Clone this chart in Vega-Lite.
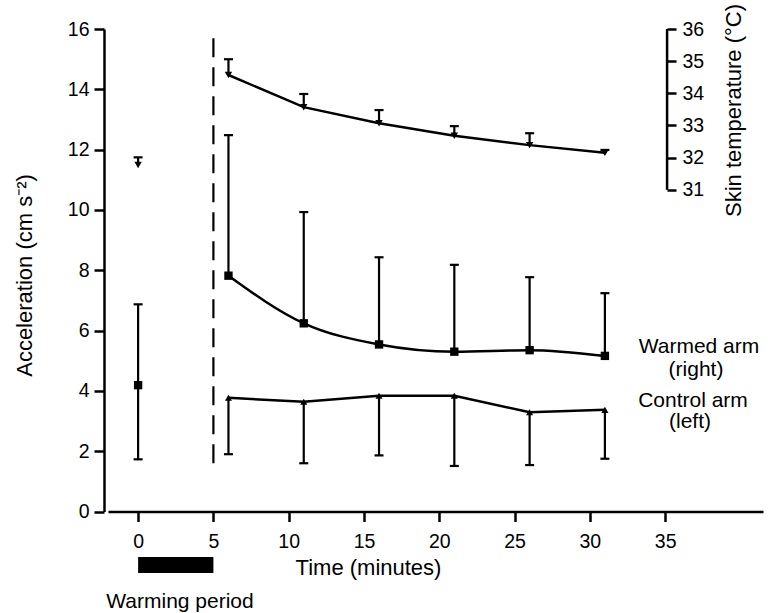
{
  "$schema": "https://vega.github.io/schema/vega-lite/v6.json",
  "width": 655,
  "height": 482.5,
  "autosize": {"type": "none"},
  "padding": {"left": 108, "top": 29, "right": 9, "bottom": 101.5},
  "background": "white",
  "config": {
    "view": {"stroke": null},
    "font": "Liberation Sans",
    "axis": {
      "grid": false,
      "domainColor": "black",
      "domainWidth": 2.5,
      "tickColor": "black",
      "tickWidth": 2.5,
      "labelColor": "black",
      "titleColor": "black",
      "labelFont": "Liberation Sans",
      "titleFont": "Liberation Sans",
      "labelFontSize": 19.5,
      "titleFontSize": 22,
      "titleFontWeight": "normal"
    }
  },
  "datasets": {
    "acc": [
      {"series": "baseline", "time": 0, "value": 4.19, "lo": 1.73, "hi": 6.87},
      {"series": "warmed", "time": 6, "value": 7.82, "lo": 7.82, "hi": 12.48},
      {"series": "warmed", "time": 11, "value": 6.24, "lo": 6.24, "hi": 9.93},
      {"series": "warmed", "time": 16, "value": 5.54, "lo": 5.54, "hi": 8.43},
      {"series": "warmed", "time": 21, "value": 5.30, "lo": 5.30, "hi": 8.18},
      {"series": "warmed", "time": 26, "value": 5.35, "lo": 5.35, "hi": 7.77},
      {"series": "warmed", "time": 31, "value": 5.16, "lo": 5.16, "hi": 7.24},
      {"series": "control", "time": 6, "value": 3.77, "lo": 1.90, "hi": 3.77},
      {"series": "control", "time": 11, "value": 3.64, "lo": 1.60, "hi": 3.64},
      {"series": "control", "time": 16, "value": 3.84, "lo": 1.86, "hi": 3.84},
      {"series": "control", "time": 21, "value": 3.84, "lo": 1.51, "hi": 3.84},
      {"series": "control", "time": 26, "value": 3.29, "lo": 1.54, "hi": 3.29},
      {"series": "control", "time": 31, "value": 3.37, "lo": 1.75, "hi": 3.37}
    ],
    "temp": [
      {"time": 0, "value": 31.77, "hi": 32.01},
      {"time": 6, "value": 34.57, "hi": 35.06},
      {"time": 11, "value": 33.57, "hi": 33.98},
      {"time": 16, "value": 33.07, "hi": 33.48},
      {"time": 21, "value": 32.68, "hi": 32.98},
      {"time": 26, "value": 32.39, "hi": 32.76},
      {"time": 31, "value": 32.15, "hi": 32.24}
    ],
    "notes": [
      {"label": "Warmed arm", "time": 37.25, "acc": 5.45},
      {"label": "(right)", "time": 37.05, "acc": 4.68},
      {"label": "Control arm", "time": 36.85, "acc": 3.68},
      {"label": "(left)", "time": 36.65, "acc": 2.96},
      {"label": "Warming period", "time": 2.78, "acc": -3.0}
    ],
    "periods": [
      {"name": "warming", "start": 0, "end": 5, "top": -1.51, "bottom": -2.04}
    ],
    "markers": [
      {"name": "end of warming", "time": 5, "lo": 1.6, "hi": 15.7}
    ],
    "spine": [
      {"time": 35.13, "lo": 31, "hi": 36}
    ]
  },
  "layer": [
    {
      "layer": [
        {
          "data": {"name": "acc"},
          "mark": {"type": "rule", "strokeWidth": 2.2, "color": "black"},
          "encoding": {
            "x": {"field": "time", "type": "quantitative", "scale": {"domain": [-2, 41.5], "nice": false, "zero": false},
              "axis": {"values": [0, 5, 10, 15, 20, 25, 30, 35], "tickSize": 10, "labelPadding": 11, "title": "Time (minutes)", "titleX": 260, "titleY": 56, "titleBaseline": "middle"}},
            "y": {"field": "lo", "type": "quantitative", "scale": {"domain": [0, 16], "nice": false, "zero": false},
              "axis": {"orient": "left", "offset": 4, "values": [0, 2, 4, 6, 8, 10, 12, 14, 16], "tickSize": 10, "labelPadding": 5, "title": "Acceleration (cm s⁻²)", "titleX": -80, "titleY": 246, "titleBaseline": "middle", "titleAngle": 270}},
            "y2": {"field": "hi"}
          }
        },
        {
          "data": {"name": "acc"},
          "transform": [{"filter": "datum.series != 'control'"}],
          "mark": {"type": "tick", "orient": "horizontal", "size": 9, "thickness": 2.2, "color": "black", "opacity": 1},
          "encoding": {
            "x": {"field": "time", "type": "quantitative", "scale": {"domain": [-2, 41.5], "nice": false, "zero": false}},
            "y": {"field": "hi", "type": "quantitative", "scale": {"domain": [0, 16], "nice": false, "zero": false}}
          }
        },
        {
          "data": {"name": "acc"},
          "transform": [{"filter": "datum.series != 'warmed'"}],
          "mark": {"type": "tick", "orient": "horizontal", "size": 9, "thickness": 2.2, "color": "black", "opacity": 1},
          "encoding": {
            "x": {"field": "time", "type": "quantitative", "scale": {"domain": [-2, 41.5], "nice": false, "zero": false}},
            "y": {"field": "lo", "type": "quantitative", "scale": {"domain": [0, 16], "nice": false, "zero": false}}
          }
        },
        {
          "data": {"name": "acc"},
          "transform": [{"filter": "datum.series == 'warmed'"}],
          "mark": {"type": "line", "interpolate": "monotone", "strokeWidth": 2.5, "color": "black"},
          "encoding": {
            "x": {"field": "time", "type": "quantitative", "scale": {"domain": [-2, 41.5], "nice": false, "zero": false}},
            "y": {"field": "value", "type": "quantitative", "scale": {"domain": [0, 16], "nice": false, "zero": false}}
          }
        },
        {
          "data": {"name": "acc"},
          "transform": [{"filter": "datum.series == 'control'"}],
          "mark": {"type": "line", "strokeWidth": 2.5, "color": "black"},
          "encoding": {
            "x": {"field": "time", "type": "quantitative", "scale": {"domain": [-2, 41.5], "nice": false, "zero": false}},
            "y": {"field": "value", "type": "quantitative", "scale": {"domain": [0, 16], "nice": false, "zero": false}}
          }
        },
        {
          "data": {"name": "acc"},
          "transform": [{"filter": "datum.series != 'control'"}],
          "mark": {"type": "point", "shape": "square", "filled": true, "size": 70, "color": "black", "opacity": 1},
          "encoding": {
            "x": {"field": "time", "type": "quantitative", "scale": {"domain": [-2, 41.5], "nice": false, "zero": false}},
            "y": {"field": "value", "type": "quantitative", "scale": {"domain": [0, 16], "nice": false, "zero": false}}
          }
        },
        {
          "data": {"name": "acc"},
          "transform": [{"filter": "datum.series == 'control'"}],
          "mark": {"type": "point", "shape": "triangle-up", "filled": true, "size": 50, "color": "black", "opacity": 1},
          "encoding": {
            "x": {"field": "time", "type": "quantitative", "scale": {"domain": [-2, 41.5], "nice": false, "zero": false}},
            "y": {"field": "value", "type": "quantitative", "scale": {"domain": [0, 16], "nice": false, "zero": false}}
          }
        },
        {
          "data": {"name": "markers"},
          "mark": {"type": "rule", "strokeWidth": 2.2, "strokeDash": [19, 10], "color": "black"},
          "encoding": {
            "x": {"field": "time", "type": "quantitative", "scale": {"domain": [-2, 41.5], "nice": false, "zero": false}},
            "y": {"field": "lo", "type": "quantitative", "scale": {"domain": [0, 16], "nice": false, "zero": false}},
            "y2": {"field": "hi"}
          }
        },
        {
          "data": {"name": "periods"},
          "mark": {"type": "rect", "color": "black", "opacity": 1},
          "encoding": {
            "x": {"field": "start", "type": "quantitative", "scale": {"domain": [-2, 41.5], "nice": false, "zero": false}},
            "x2": {"field": "end"},
            "y": {"field": "top", "type": "quantitative", "scale": {"domain": [0, 16], "nice": false, "zero": false}},
            "y2": {"field": "bottom"}
          }
        },
        {
          "data": {"name": "notes"},
          "mark": {"type": "text", "font": "Liberation Sans", "fontSize": 21, "align": "center", "baseline": "middle", "color": "black"},
          "encoding": {
            "x": {"field": "time", "type": "quantitative", "scale": {"domain": [-2, 41.5], "nice": false, "zero": false}},
            "y": {"field": "acc", "type": "quantitative", "scale": {"domain": [0, 16], "nice": false, "zero": false}},
            "text": {"field": "label"}
          }
        }
      ]
    },
    {
      "layer": [
        {
          "data": {"name": "temp"},
          "mark": {"type": "rule", "strokeWidth": 2.2, "color": "black"},
          "encoding": {
            "x": {"field": "time", "type": "quantitative", "scale": {"domain": [-2, 41.5], "nice": false, "zero": false}},
            "y": {"field": "value", "type": "quantitative", "scale": {"domain": [21, 36], "nice": false, "zero": false},
              "axis": {"orient": "right", "offset": -96, "domain": false, "values": [31, 32, 33, 34, 35, 36], "tickSize": 9, "labelPadding": 6, "title": "Skin temperature (°C)", "titleX": 66, "titleY": 81, "titleAngle": 270, "titleBaseline": "middle"}},
            "y2": {"field": "hi"}
          }
        },
        {
          "data": {"name": "temp"},
          "mark": {"type": "tick", "orient": "horizontal", "size": 9, "thickness": 2.2, "color": "black", "opacity": 1},
          "encoding": {
            "x": {"field": "time", "type": "quantitative", "scale": {"domain": [-2, 41.5], "nice": false, "zero": false}},
            "y": {"field": "hi", "type": "quantitative", "scale": {"domain": [21, 36], "nice": false, "zero": false}}
          }
        },
        {
          "data": {"name": "temp"},
          "transform": [{"filter": "datum.time > 0"}],
          "mark": {"type": "line", "strokeWidth": 2.5, "color": "black"},
          "encoding": {
            "x": {"field": "time", "type": "quantitative", "scale": {"domain": [-2, 41.5], "nice": false, "zero": false}},
            "y": {"field": "value", "type": "quantitative", "scale": {"domain": [21, 36], "nice": false, "zero": false}}
          }
        },
        {
          "data": {"name": "temp"},
          "mark": {"type": "point", "shape": "triangle-down", "filled": true, "size": 55, "color": "black", "opacity": 1},
          "encoding": {
            "x": {"field": "time", "type": "quantitative", "scale": {"domain": [-2, 41.5], "nice": false, "zero": false}},
            "y": {"field": "value", "type": "quantitative", "scale": {"domain": [21, 36], "nice": false, "zero": false}}
          }
        },
        {
          "data": {"name": "spine"},
          "mark": {"type": "rule", "strokeWidth": 2.5, "color": "black"},
          "encoding": {
            "x": {"field": "time", "type": "quantitative", "scale": {"domain": [-2, 41.5], "nice": false, "zero": false}},
            "y": {"field": "lo", "type": "quantitative", "scale": {"domain": [21, 36], "nice": false, "zero": false}},
            "y2": {"field": "hi"}
          }
        }
      ]
    }
  ],
  "resolve": {"scale": {"y": "independent"}, "axis": {"y": "independent"}}
}
